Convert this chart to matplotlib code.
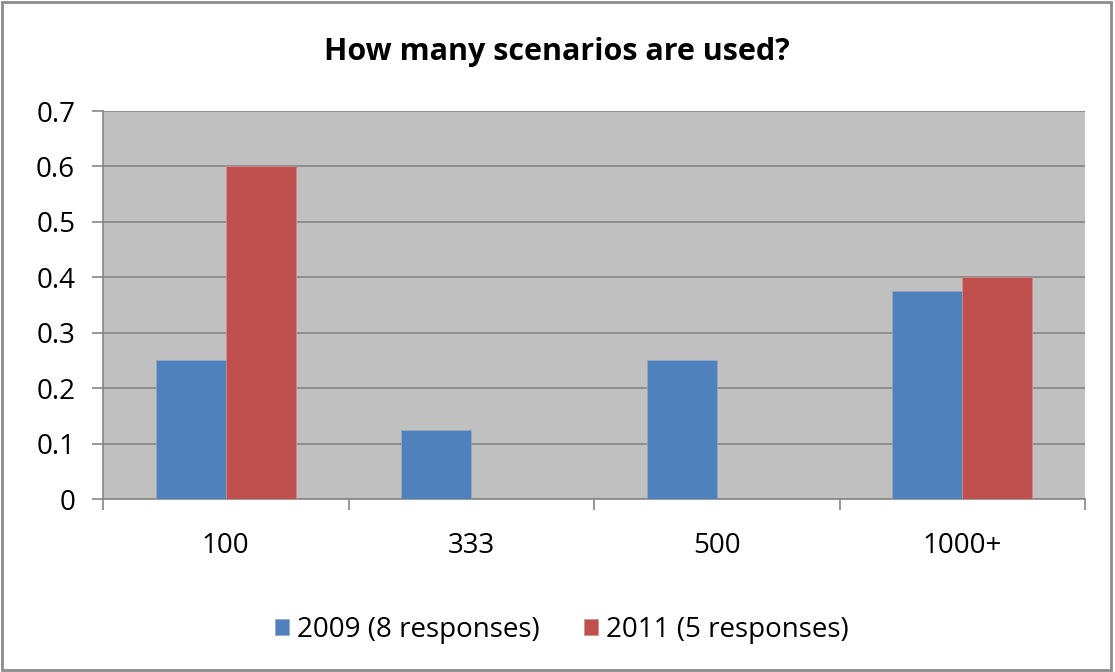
import matplotlib
matplotlib.use("Agg")
import matplotlib.pyplot as plt
import numpy as np
from matplotlib.patches import Rectangle

categories = ["100", "333", "500", "1000+"]
series_2009 = [0.25, 0.125, 0.25, 0.375]
series_2011 = [0.6, 0.0, 0.0, 0.4]
labels = ["2009 (8 responses)", "2011 (5 responses)"]
y_ticks = [0, 0.1, 0.2, 0.3, 0.4, 0.5, 0.6, 0.7]

plt.rcParams['font.family'] = ['Open Sans', 'DejaVu Sans']

fig = plt.figure(figsize=(11.15, 6.72), dpi=100, facecolor='white')
ax = fig.add_axes([103 / 1115, 1 - 499 / 672, 982 / 1115, 388 / 672])

# 绘图区样式（Excel 风格）
ax.set_facecolor('#c0c0c0')
grid_color = '#868686'
x = np.arange(len(categories))
w = 0.285
ax.bar(x - w / 2, series_2009, w, color='#4f81bd', edgecolor='#9aa9bf', linewidth=0.5,
       label=labels[0], zorder=3)
ax.bar(x + w / 2, series_2011, w, color='#c0504d', edgecolor='#c9908e', linewidth=0.5,
       label=labels[1], zorder=3)

ax.set_xlim(-0.5, len(categories) - 0.5)
ax.set_ylim(0, 0.7)
ax.set_yticks(y_ticks)
ax.set_yticklabels(['0' if v == 0 else f'{v:.1f}' for v in y_ticks])
ax.yaxis.grid(True, color=grid_color, linewidth=1.2, zorder=0)
ax.set_axisbelow(True)

# x 轴刻度放在分类边界，标签放在中间
ax.set_xticks(np.arange(len(categories) + 1) - 0.5)
ax.set_xticklabels([])
ax.set_xticks(x, minor=True)
ax.set_xticklabels(categories, minor=True)
ax.tick_params(axis='x', which='major', length=8, color=grid_color, width=1.2)
ax.tick_params(axis='x', which='minor', length=0, pad=24, labelsize=20)
ax.tick_params(axis='y', length=8, color=grid_color, width=1.2, labelsize=20, pad=12)

for s in ['top', 'right']:
    ax.spines[s].set_visible(False)
ax.spines['left'].set_color(grid_color)
ax.spines['bottom'].set_color(grid_color)
ax.spines['left'].set_linewidth(1.2)
ax.spines['bottom'].set_linewidth(1.2)

fig.text(557 / 1115, 1 - 52 / 672, 'How many scenarios are used?', ha='center', va='center',
         fontsize=22, fontweight='bold')

fig.legend(loc='center', bbox_to_anchor=(562 / 1115, 1 - 630 / 672), ncol=2, frameon=False,
           fontsize=20, handlelength=0.5, handleheight=0.5, handletextpad=0.3, columnspacing=1.6)

# 外框
fig.patches.append(Rectangle((2 / 1115, 2 / 672), 1109 / 1115, 668 / 672, transform=fig.transFigure,
                             fill=False, edgecolor='#8c8c8c', linewidth=2))

fig.savefig('out.png', dpi=100, facecolor='white')
